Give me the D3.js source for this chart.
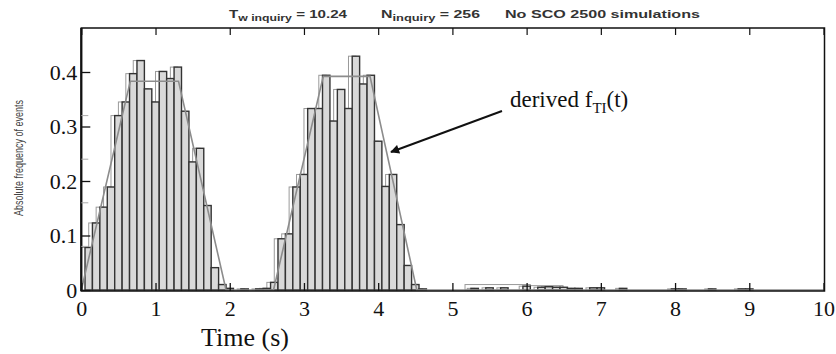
<!DOCTYPE html>
<html><head><meta charset="utf-8">
<script src="https://cdn.jsdelivr.net/npm/d3@7"></script>
<style>body{margin:0;background:#fff}svg{display:block}</style>
</head><body>
<svg id="c" width="836" height="354"></svg>
<script>
// ---- data ----
const binCenters = [0.1,0.2,0.3,0.4,0.5,0.6,0.7,0.8,0.9,1.0,1.1,1.2,1.3,1.4,1.5,1.6,1.7,1.8,1.9,2.0,
  2.2,2.4,2.5,2.6,2.7,2.8,2.9,3.0,3.1,3.2,3.3,3.4,3.5,3.6,3.7,3.8,3.9,4.0,4.1,4.2,4.3,4.4,4.5,4.6,
  5.3,5.5,5.7,6.0,6.2,6.3,6.4,6.5,6.6,6.7,6.9,7.0,7.3,8.0,8.1,8.5,8.9,9.0];
const binValues = [0.078,0.123,0.152,0.189,0.320,0.345,0.397,0.421,0.369,0.345,0.401,0.388,0.409,0.328,0.235,0.260,0.155,0.041,0.010,0.003,
  0.002,0.002,0.003,0.014,0.094,0.103,0.189,0.212,0.333,0.333,0.394,0.310,0.368,0.333,0.429,0.378,0.394,0.273,0.190,0.212,0.120,0.045,0.010,0.002,
  0.003,0.004,0.004,0.007,0.005,0.006,0.005,0.005,0.003,0.003,0.004,0.004,0.003,0.002,0.002,0.002,0.002,0.002];
const derivedT = [0,0.0,0.66,1.31,1.95,2.59,3.26,3.89,4.52,10];
const derivedV = [0,0.0,0.383,0.383,0.0,0.0,0.392,0.392,0.0,0.0];
const tailBoxStart = [5.17,6.05];
const tailBoxEnd = [6.05,6.49];
const tailBoxValue = [0.010,0.008];
const xTicks = [0,1,2,3,4,5,6,7,8,9,10];
const yTicks = [0,0.1,0.2,0.3,0.4];
const yGhostTicks = [0.08,0.16,0.24,0.32];
const binWidth = 0.1;

// ---- layout ----
const svg = d3.select("#c");
const L = 81.3, R = 823.5, B = 290, T = 28;
const x = d3.scaleLinear().domain([0,10]).range([L,R]);
const y = d3.scaleLinear().domain([0,(B-T)/545]).range([B,T]);

const bins = binCenters.map((c,i)=>({c, v: binValues[i]}));

// light (shifted) histogram outline
svg.append("g").selectAll("rect").data(bins).join("rect")
  .attr("x", d=>x(d.c-binWidth))
  .attr("width", d=>x(d.c)-x(d.c-binWidth))
  .attr("y", d=>y(d.v))
  .attr("height", d=>y(0)-y(d.v))
  .attr("fill","none").attr("stroke","#9a9a9a").attr("stroke-width",1);

// tail boxes
svg.append("g").selectAll("rect").data(tailBoxStart.map((s,i)=>({s,e:tailBoxEnd[i],v:tailBoxValue[i]}))).join("rect")
  .attr("x", d=>x(d.s)).attr("width", d=>x(d.e)-x(d.s))
  .attr("y", d=>y(d.v)).attr("height", d=>y(0)-y(d.v))
  .attr("fill","none").attr("stroke","#9a9a9a").attr("stroke-width",1);

// main histogram
svg.append("g").selectAll("rect").data(bins).join("rect")
  .attr("x", d=>x(d.c-binWidth/2))
  .attr("width", d=>x(d.c+binWidth/2)-x(d.c-binWidth/2))
  .attr("y", d=>y(d.v))
  .attr("height", d=>y(0)-y(d.v))
  .attr("fill","#d9d9d9").attr("stroke","#333").attr("stroke-width",1.4);

// derived line
const line = d3.line().x(d=>x(d[0])).y(d=>y(d[1]));
svg.append("path").datum(derivedT.map((t,i)=>[t,derivedV[i]]))
  .attr("d", line).attr("fill","none").attr("stroke","#8c8c8c").attr("stroke-width",1.6);

// frame
svg.append("rect").attr("x",L).attr("y",T).attr("width",R-L+1).attr("height",B-T+1)
  .attr("fill","none").attr("stroke","#111").attr("stroke-width",1.5);
svg.append("line").attr("x1",L).attr("x2",L).attr("y1",T).attr("y2",B+1).attr("stroke","#111").attr("stroke-width",2.2);

// x axis ticks (bottom & top, inward)
const serif = "'Liberation Serif','Times New Roman',serif";
const gx = svg.append("g").attr("transform",`translate(0,${B+1})`)
  .call(d3.axisBottom(x).tickValues(xTicks).tickSize(-8).tickPadding(9).tickFormat(d3.format("d")));
gx.select(".domain").remove();
gx.selectAll("line").attr("stroke","#111").attr("stroke-width",1.3);
gx.selectAll("text").attr("font-family",serif).attr("font-size",22).attr("fill","#111");
const gxt = svg.append("g").attr("transform",`translate(0,${T})`)
  .call(d3.axisTop(x).tickValues(xTicks).tickSize(-7).tickFormat(""));
gxt.select(".domain").remove();
gxt.selectAll("line").attr("stroke","#111").attr("stroke-width",1.2);

// y axis
const gy = svg.append("g").attr("transform",`translate(${L},0)`)
  .call(d3.axisLeft(y).tickValues(yTicks).tickSize(-9).tickPadding(4).tickFormat(d=>d===0?"0":d3.format(".1f")(d)));
gy.select(".domain").remove();
gy.selectAll("line").attr("stroke","#111").attr("stroke-width",1.3);
gy.selectAll("text").attr("font-family",serif).attr("font-size",22).attr("fill","#111");
// ghost ticks
svg.append("g").selectAll("line").data(yGhostTicks).join("line")
  .attr("x1",L).attr("x2",L+7).attr("y1",d=>y(d)).attr("y2",d=>y(d))
  .attr("stroke","#aaa").attr("stroke-width",1);

// axis titles
svg.append("text").attr("x",245).attr("y",346).attr("text-anchor","middle")
  .attr("font-family",serif).attr("font-size",26).attr("fill","#111").text("Time (s)");
svg.append("text").attr("transform","translate(23,158) rotate(-90)").attr("text-anchor","middle")
  .attr("font-family","'Liberation Sans',Arial,sans-serif")
  .attr("font-size",13).attr("fill","#444")
  .attr("textLength",116).attr("lengthAdjust","spacingAndGlyphs")
  .text("Absolute frequency of events");

// title
const sans = "'Liberation Sans',Arial,sans-serif";
function titleText(x0, len, main, sub, rest){
  const t = svg.append("text").attr("x",x0).attr("y",18).attr("font-family",sans)
    .attr("font-size",10.5).attr("font-weight","bold").attr("fill","#333")
    .attr("textLength",len).attr("lengthAdjust","spacingAndGlyphs");
  t.append("tspan").text(main);
  if (sub) {
    t.append("tspan").attr("dy",3).attr("font-size",8.5).text(sub);
    t.append("tspan").attr("dy",-3).text(rest);
  }
  return t;
}
titleText(229, 118, "T", "w inquiry", " = 10.24");
titleText(381, 99, "N", "inquiry", " = 256");
titleText(505, 195, "No SCO 2500 simulations");

// annotation
const ann = svg.append("text").attr("x",510).attr("y",107).attr("font-family",serif).attr("font-size",23).attr("fill","#111");
ann.append("tspan").text("derived f");
ann.append("tspan").attr("dy",6).attr("font-size",15).text("TI");
ann.append("tspan").attr("dy",-6).text("(t)");
svg.append("defs").append("marker").attr("id","ah").attr("viewBox","0 0 10 10").attr("refX",9).attr("refY",5)
  .attr("markerWidth",12).attr("markerHeight",9).attr("markerUnits","userSpaceOnUse").attr("orient","auto")
  .append("path").attr("d","M0,0 L10,5 L0,10 Z").attr("fill","#111");
svg.append("line").attr("x1",502).attr("y1",111).attr("x2",391).attr("y2",152)
  .attr("stroke","#111").attr("stroke-width",2).attr("marker-end","url(#ah)");
</script>
</body></html>
